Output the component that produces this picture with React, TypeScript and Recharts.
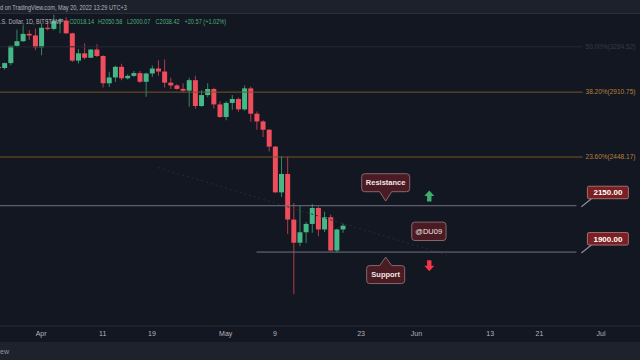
import React from 'react';
import { ComposedChart, Bar, Cell, XAxis, YAxis, ReferenceLine, ReferenceDot } from 'recharts';

// ETH / U.S. Dollar, 1D, Bitstamp — daily candles from Mar 25 to May 20, 2022
const opens = [
  3112, 3104, 3145, 3293, 3334, 3400, 3386, 3280, 3456, 3445,
  3518, 3523, 3405, 3166, 3228, 3190, 3261, 3205, 2980, 3027,
  3114, 3020, 3040, 3062, 2992, 3059, 3100, 3075, 2985, 2963,
  2936, 2922, 3005, 2805, 2888, 2935, 2817, 2724, 2828, 2858,
  2780, 2940, 2748, 2692, 2633, 2517, 2228, 2340, 2072, 1948,
  2003, 2048, 2137, 2018, 2085, 1908, 2018.14,
];
const highs = [
  3160, 3150, 3295, 3440, 3480, 3435, 3450, 3495, 3530, 3580,
  3545, 3555, 3410, 3265, 3314, 3265, 3308, 3212, 3073, 3122,
  3140, 3052, 3080, 3080, 3065, 3124, 3170, 3175, 3025, 2975,
  2980, 3025, 3040, 2925, 2980, 2945, 2838, 2840, 2888, 2870,
  2962, 2954, 2765, 2700, 2638, 2522, 2455, 2450, 2165, 2150,
  2058, 2160, 2145, 2115, 2100, 2023, 2050.58,
];
const lows = [
  3080, 3090, 3128, 3280, 3330, 3345, 3255, 3212, 3430, 3433,
  3405, 3400, 3155, 3142, 3176, 3188, 3196, 2947, 2950, 2990,
  3005, 3010, 3030, 2983, 2875, 3030, 3040, 2947, 2935, 2930,
  2910, 2800, 2785, 2800, 2872, 2787, 2718, 2700, 2778, 2762,
  2770, 2690, 2632, 2582, 2485, 2225, 2200, 1994, 1698, 1930,
  1946, 2000, 1982, 2005, 1904, 1898, 2000.07,
];
const closes = [
  3104, 3145, 3293, 3334, 3400, 3386, 3280, 3456, 3445, 3521,
  3524, 3405, 3166, 3228, 3190, 3261, 3205, 2980, 3027, 3114,
  3020, 3040, 3062, 2992, 3059, 3100, 3075, 2985, 2963, 2936,
  2922, 3005, 2805, 2888, 2935, 2817, 2724, 2828, 2858, 2780,
  2940, 2748, 2692, 2633, 2517, 2228, 2340, 2072, 1948, 2003,
  2048, 2137, 2018, 2085, 1908, 2018, 2038.42,
];

const tickDays = ['2022-04-01', '2022-04-11', '2022-04-19', '2022-05-01', '2022-05-09', '2022-05-23', '2022-06-01', '2022-06-13', '2022-06-21', '2022-07-01'];
const tickLabels = ['Apr', '11', '19', 'May', '9', '23', 'Jun', '13', '21', 'Jul'];

const fibLevels = [3284.52, 2910.75, 2448.17];
const fibLabels = ['50.00%(3284.52)', '38.20%(2910.75)', '23.60%(2448.17)'];
const resistance = 2150;
const support = 1900;
const trendStart = 2380;
const trendEnd = 1885;
const watermarkPrice = 2008;

const legendParts = ['.S. Dollar, 1D, BITSTAMP', 'O2018.14', 'H2050.58', 'L2000.07', 'C2038.42', '+20.57 (+1.02%)'];
const legendX = [0, 69.5, 98, 127, 155.5, 184.5];

// calendar days shown on the time axis (Mar 25 .. Jul 7)
const days: string[] = [];
for (let i = 0; i < 105; i++) {
  days.push(new Date(Date.UTC(2022, 2, 25 + i)).toISOString().slice(0, 10));
}

const data = days.map((day, i) =>
  i < closes.length
    ? {
        day,
        wick: [lows[i], highs[i]],
        body: [Math.min(opens[i], closes[i]), Math.max(opens[i], closes[i])],
        up: closes[i] >= opens[i],
      }
    : { day, wick: null, body: null, up: true }
);

const UP = '#45b887';
const DOWN = '#ef4c5c';
const FONT = '"Liberation Sans", Arial, sans-serif';
const SQUEEZE = 0.8; // header text is narrower than Liberation Sans

const PriceTag = ({ cx, cy, text }: any) => (
  <g>
    <line x1={cx + 5} y1={cy + 1} x2={cx + 15} y2={cy - 7} stroke="#8a8e99" strokeWidth={1.2} />
    <rect x={cx + 11} y={cy - 19.5} width={41} height={12.5} rx={1.5} fill="#7b1f22" stroke="#b58487" strokeWidth={0.8} />
    <text x={cx + 31.5} y={cy - 10.3} textAnchor="middle" fill="#fff" fontSize={8} fontWeight="bold" fontFamily={FONT}>
      {text}
    </text>
  </g>
);

const calloutPath = (cx: number, top: number, bottom: number, half: number, tip: number, down: boolean) => {
  const l = cx - half;
  const r = cx + half;
  const rr = 3;
  if (down) {
    return `M${l + rr},${top} H${r - rr} Q${r},${top} ${r},${top + rr} V${bottom - rr} Q${r},${bottom} ${r - rr},${bottom} H${cx + 6} L${cx},${tip} L${cx - 6},${bottom} H${l + rr} Q${l},${bottom} ${l},${bottom - rr} V${top + rr} Q${l},${top} ${l + rr},${top} Z`;
  }
  return `M${l + rr},${top} H${cx - 6} L${cx},${tip} L${cx + 6},${top} H${r - rr} Q${r},${top} ${r},${top + rr} V${bottom - rr} Q${r},${bottom} ${r - rr},${bottom} H${l + rr} Q${l},${bottom} ${l},${bottom - rr} V${top + rr} Q${l},${top} ${l + rr},${top} Z`;
};

const ResistanceNote = ({ cx, cy }: any) => (
  <g>
    <path d={calloutPath(cx, cy - 32, cy - 14, 24, cy - 4.6, true)} fill="#4a1b22" stroke="#8e7075" strokeWidth={0.9} />
    <text x={cx} y={cy - 20.3} textAnchor="middle" fill="#f0e6e6" fontSize={7.5} fontWeight="bold" fontFamily={FONT}>
      Resistance
    </text>
    <path d={`M${cx + 43.6},${cy - 15.3} l5,5.5 h-2.8 v5.5 h-4.4 v-5.5 h-2.8 Z`} fill="#3fae6a" />
  </g>
);

const SupportNote = ({ cx, cy }: any) => (
  <g>
    <path d={calloutPath(cx, cy + 13.5, cy + 31.5, 19, cy + 5, false)} fill="#4a1b22" stroke="#8e7075" strokeWidth={0.9} />
    <text x={cx} y={cy + 25.3} textAnchor="middle" fill="#f0e6e6" fontSize={7.5} fontWeight="bold" fontFamily={FONT}>
      Support
    </text>
    <path d={`M${cx + 43.6},${cy + 19.2} l5,-5.5 h-2.8 v-5.5 h-4.4 v5.5 h-2.8 Z`} fill="#f23645" />
  </g>
);

const Watermark = ({ cx, cy }: any) => (
  <g>
    <rect x={cx - 17} y={cy - 9.2} width={34.3} height={18.4} rx={3} fill="#4a1b22" stroke="#8e7075" strokeWidth={0.9} />
    <text x={cx} y={cy + 2.6} textAnchor="middle" fill="#f0e6e6" fontSize={7.5} fontFamily={FONT}>
      @DU09
    </text>
  </g>
);

export default function App() {
  return (
    <div style={{ position: 'absolute', left: 0, top: 0, width: 640, height: 360, background: '#131722', overflow: 'hidden', fontFamily: FONT }}>
      <div style={{ position: 'absolute', left: 0, top: 14 }}>
        <ComposedChart width={640} height={328} data={data} margin={{ top: 0, right: -1, bottom: 0, left: -5 }} barCategoryGap={0}>
          <XAxis
            xAxisId="a"
            dataKey="day"
            ticks={tickDays}
            interval={0}
            tickFormatter={(d: string) => tickLabels[tickDays.indexOf(d)] ?? ''}
            axisLine={{ stroke: '#2a2e39' }}
            tickLine={false}
            tickSize={0}
            tickMargin={5}
            height={16}
            tick={{ fill: '#b2b5be', fontSize: 7, fontFamily: FONT }}
          />
          <XAxis xAxisId="b" dataKey="day" hide height={0} />
          <YAxis scale="log" domain={[1560, 3585]} allowDataOverflow hide />

          <ReferenceLine
            xAxisId="a"
            segment={[{ x: days[26], y: trendStart }, { x: days[73], y: trendEnd }]}
            stroke="#272c38"
            strokeDasharray="2 3"
          />
          {fibLevels.map((lvl, i) => (
            <ReferenceLine
              key={lvl}
              xAxisId="a"
              segment={[{ x: days[0], y: lvl }, { x: days[95], y: lvl }]}
              stroke={i === 0 ? '#262a33' : '#76552a'}
              label={{ value: fibLabels[i], position: 'right', offset: 3, fill: i === 0 ? '#363a44' : '#b5813a', fontSize: 6.5, fontFamily: FONT }}
            />
          ))}
          <ReferenceLine xAxisId="a" segment={[{ x: days[0], y: resistance }, { x: days[94], y: resistance }]} stroke="#6f737e" />
          <ReferenceLine xAxisId="a" segment={[{ x: days[42], y: support }, { x: days[94], y: support }]} stroke="#6f737e" />

          <Bar xAxisId="a" dataKey="wick" barSize={1} isAnimationActive={false}>
            {data.map((d) => (
              <Cell key={d.day} fill={d.up ? '#2f8a62' : '#b03c4a'} />
            ))}
          </Bar>
          <Bar xAxisId="b" dataKey="body" barSize={5} isAnimationActive={false}>
            {data.map((d) => (
              <Cell key={d.day} fill={d.up ? UP : DOWN} />
            ))}
          </Bar>

          <ReferenceDot xAxisId="a" x={days[94]} y={resistance} shape={(p: any) => <PriceTag {...p} text="2150.00" />} />
          <ReferenceDot xAxisId="a" x={days[94]} y={support} shape={(p: any) => <PriceTag {...p} text="1900.00" />} />
          <ReferenceDot xAxisId="a" x={days[63]} y={resistance} shape={(p: any) => <ResistanceNote {...p} />} />
          <ReferenceDot xAxisId="a" x={days[63]} y={support} shape={(p: any) => <SupportNote {...p} />} />
          <ReferenceDot xAxisId="a" x={days[70]} y={watermarkPrice} shape={(p: any) => <Watermark {...p} />} />
        </ComposedChart>
      </div>

      <svg width={640} height={360} style={{ position: 'absolute', left: 0, top: 0, pointerEvents: 'none' }} fontFamily={FONT}>
        <rect x={0} y={0} width={640} height={13.5} fill="#1d212c" />
        <line x1={0} y1={13.5} x2={640} y2={13.5} stroke="#2a2e39" />
        <g transform={`scale(${SQUEEZE},1)`}>
          <text x={0} y={9.6} fill="#b2b5be" fontSize={7}>
            d on TradingView.com, May 20, 2022 13:29 UTC+3
          </text>
          {legendParts.map((t, i) => (
            <text key={t} x={legendX[i] / SQUEEZE} y={24.5} fill={i === 0 ? '#b2b5be' : '#4caf7d'} fontSize={7}>
              {t}
            </text>
          ))}
        </g>
        <rect x={0} y={342} width={640} height={18} fill="#1e222d" />
        <text x={0} y={353.5} fill="#9598a1" fontSize={7}>ew</text>
      </svg>
    </div>
  );
}
